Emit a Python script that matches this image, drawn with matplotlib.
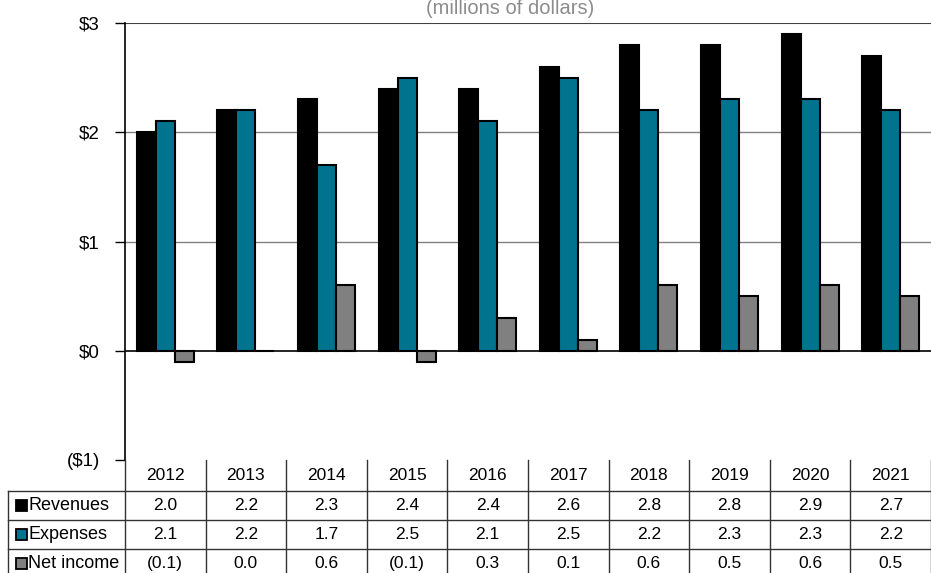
import matplotlib.pyplot as plt
from matplotlib.transforms import blended_transform_factory
from matplotlib.lines import Line2D
import numpy as np

plt.rcParams['font.family'] = ['Liberation Sans', 'DejaVu Sans']

# data (millions of dollars)
years = ['2012', '2013', '2014', '2015', '2016', '2017', '2018', '2019', '2020', '2021']
revenues = [2.0, 2.2, 2.3, 2.4, 2.4, 2.6, 2.8, 2.8, 2.9, 2.7]
expenses = [2.1, 2.2, 1.7, 2.5, 2.1, 2.5, 2.2, 2.3, 2.3, 2.2]
net_income = [-0.1, 0.0, 0.6, -0.1, 0.3, 0.1, 0.6, 0.5, 0.6, 0.5]
series_names = ['Revenues', 'Expenses', 'Net income']
colors = ['#000000', '#00738F', '#808080']

W, H = 931, 573
fig = plt.figure(figsize=(W / 100, H / 100), dpi=100)
ax = fig.add_axes([125 / W, (H - 460) / H, 806 / W, (460 - 23) / H])

x = np.arange(len(years))
bw = 0.235
for i, (vals, col) in enumerate(zip([revenues, expenses, net_income], colors)):
    ax.bar(x + (i - 1) * bw, vals, bw, color=col, edgecolor='black', linewidth=1.5, zorder=3)

ax.set_xlim(-0.5, len(years) - 0.5)
ax.set_ylim(-1, 3)
ax.set_yticks([-1, 0, 1, 2, 3])
ax.set_yticklabels(['($1)', '$0', '$1', '$2', '$3'], fontsize=13.5)
ax.tick_params(axis='y', length=7, width=1, pad=11)
ax.set_xticks([])
for s in ['top', 'right', 'bottom']:
    ax.spines[s].set_visible(False)
ax.spines['left'].set_linewidth(1.2)
for v in [1, 2]:
    ax.axhline(v, color='#808080', linewidth=1, zorder=1)
ax.axhline(3, color='#404040', linewidth=1.5, zorder=1)
ax.axhline(0, color='black', linewidth=1.2, zorder=4)

fig.text(510 / W, 1 - 14 / H, '(millions of dollars)', ha='center', va='baseline',
         fontsize=14.5, color='#8c8c8c')

# data table under the chart
tr = blended_transform_factory(ax.transData, fig.transFigure)
def fy(py):
    return 1 - py / H

row_edges = [460, 491, 520, 549, 578]
lc = '#333333'
for k in range(len(years) + 1):
    xe = k - 0.5
    fig.add_artist(Line2D([xe, xe], [fy(460), fy(578)], transform=tr, color=lc, linewidth=1))
left_fig = 8 / W
for py in row_edges[1:]:
    fig.add_artist(Line2D([left_fig, 1], [fy(py), fy(py)], color=lc, linewidth=1))
fig.add_artist(Line2D([left_fig, left_fig], [fy(491), fy(578)], color=lc, linewidth=1))

for k, yr in enumerate(years):
    fig.text(k, fy(476), yr, transform=tr, ha='center', va='center', fontsize=12.5)

def fmt(v):
    if v < 0:
        return '({:.1f})'.format(-v)
    return '{:.1f}'.format(v)

for r, (name, vals, col) in enumerate(zip(series_names, [revenues, expenses, net_income], colors)):
    cy = fy((row_edges[r + 1] + row_edges[r + 2]) / 2)
    fig.patches.append(plt.Rectangle((16 / W, cy - 5.5 / H), 11 / W, 11 / H, transform=fig.transFigure,
                                     facecolor=col, edgecolor='black', linewidth=1.3))
    fig.text(28 / W, cy, name, ha='left', va='center', fontsize=13)
    for k, v in enumerate(vals):
        fig.text(k, cy, fmt(v), transform=tr, ha='center', va='center', fontsize=12.5)

fig.savefig('out.png', dpi=100)
